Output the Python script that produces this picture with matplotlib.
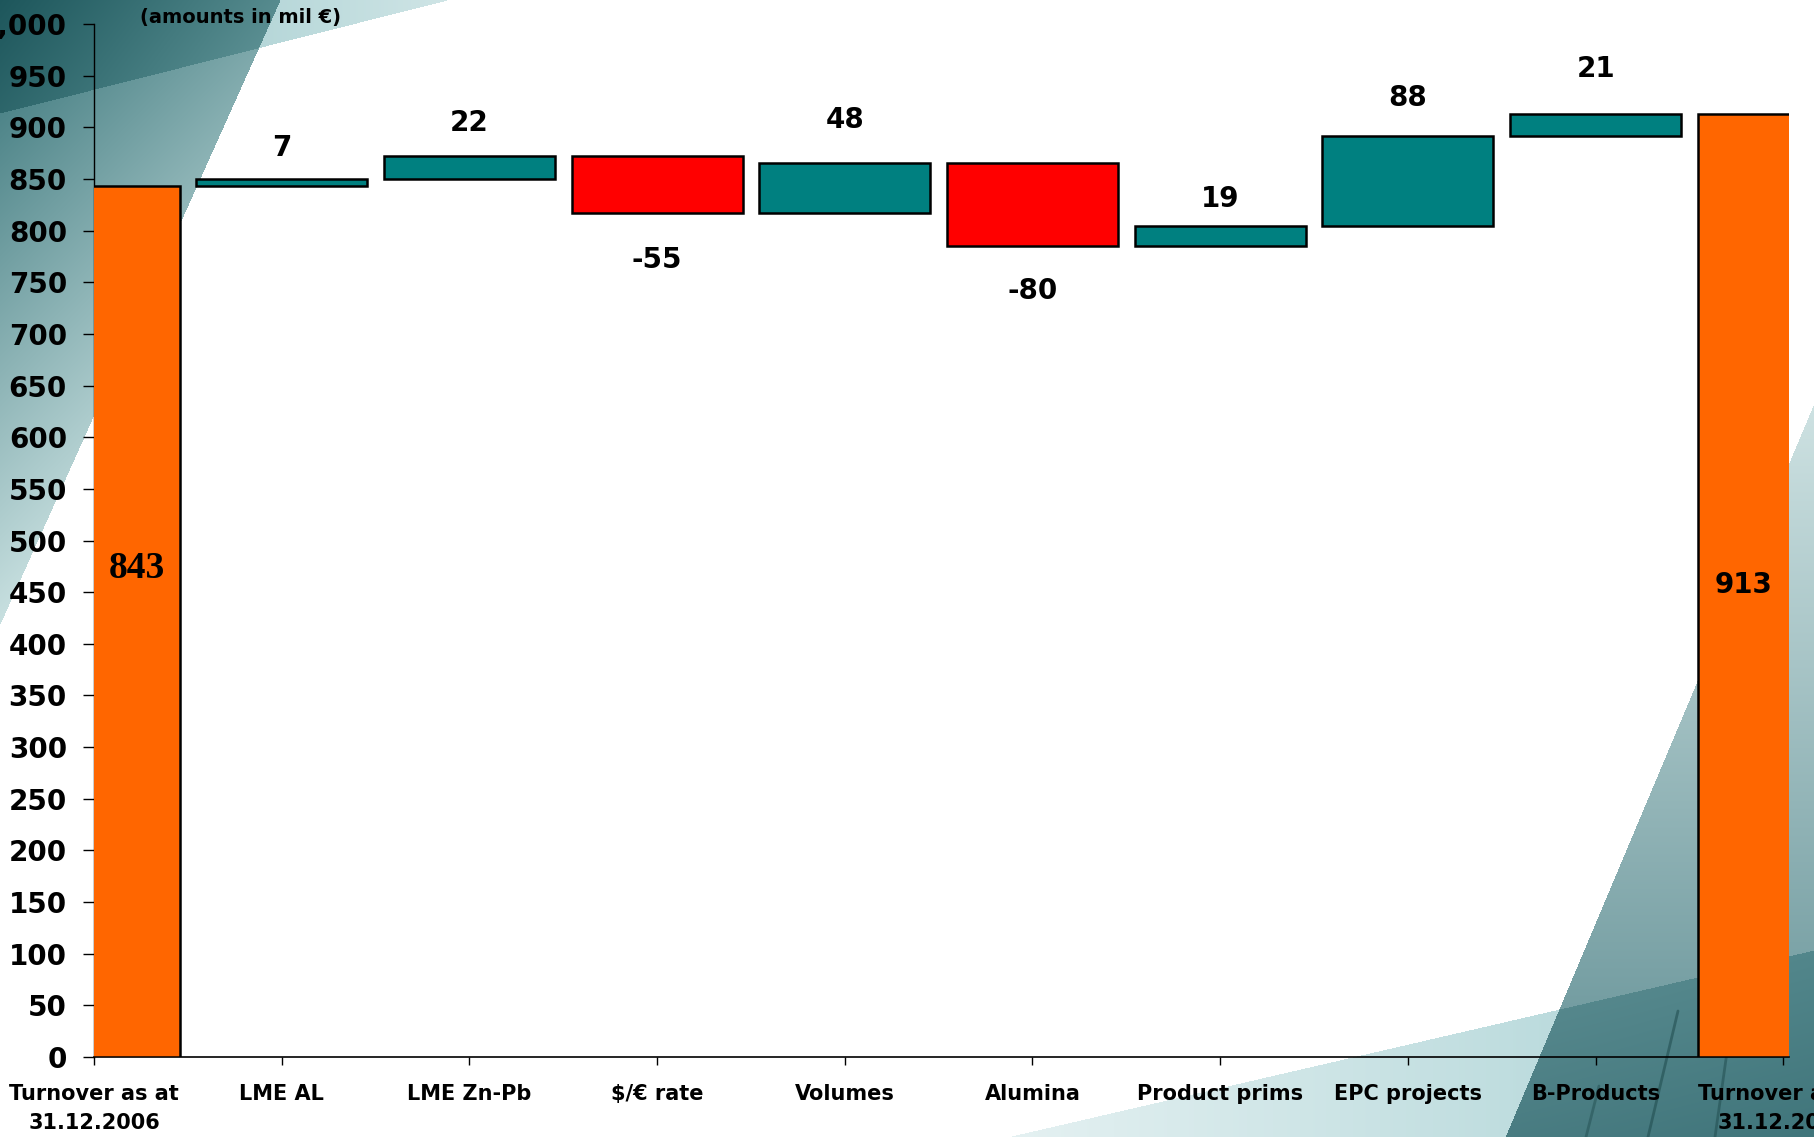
import numpy as np
import matplotlib
matplotlib.use("Agg")
import matplotlib.pyplot as plt
from matplotlib.ticker import FuncFormatter

# ---------------- data ----------------
categories = ["Turnover as at\n31.12.2006", "LME AL", "LME Zn-Pb", "$/€ rate",
              "Volumes", "Alumina", "Product prims", "EPC projects",
              "B-Products", "Turnover as at\n31.12.2007"]
start_value = 843
changes = [7, 22, -55, 48, -80, 19, 88, 21]
end_value = 913
y_ticks = list(range(0, 1001, 50))
unit_note = "(amounts in mil €)"

# ---------------- style / layout ----------------
ORANGE = "#FF6600"
TEAL = "#008080"
RED = "#FF0000"
BAR_W = 0.912
EDGE_LW = 1.8
label_offset_pts = [22, 24, -34, 31, -32, 20, 27, 32]   # label centre offset from bar end
W_PX, H_PX = 1814, 1137

plt.rcParams['font.family'] = ['DejaVu Sans']
fig = plt.figure(figsize=(W_PX / 100, H_PX / 100), dpi=100)

# ---------------- decorative background ----------------
bg = fig.add_axes([0, 0, 1, 1], zorder=0)
yy, xx = np.mgrid[0:H_PX, 0:W_PX].astype(float)
img = np.ones((H_PX, W_PX, 3))

# top-left steep shape
t = xx / 280.0 + yy / 624.0
mA = t < 1
dark = np.array([0.20, 0.44, 0.46])
light = np.array([0.80, 0.89, 0.89])
sA = np.clip(yy / 640.0 + 0.45 * xx / 280.0, 0, 1)[..., None]
colA = dark + (light - dark) * sA
img = np.where(mA[..., None], colA, img)

# top-left flat band
u = xx / 447.0 + yy / 113.0
mB = u < 1
bandc = np.array([0.58, 0.77, 0.78])
fade = np.clip(xx / 447.0, 0, 1)[..., None]
mult = 1 - (1 - bandc) * (1 - 0.55 * fade)
img = np.where(mB[..., None], img * mult, img)

# bottom-right steep shape
xline = 1689 - 0.421 * (yy - 700)
mC = xx > xline
sC = np.clip((yy - 350) / 787.0, 0, 1)[..., None]
lightC = np.array([0.84, 0.91, 0.91])
darkC = np.array([0.38, 0.56, 0.58])
colC = lightC + (darkC - lightC) * sC
img = np.where(mC[..., None], colC, img)

# bottom-right flat band
yline = 1137 - (xx - 1007) * 0.2317
mD = yy > yline
fadeD = np.clip((xx - 1007) / 807.0, 0, 1)[..., None]
bandD = np.array([0.66, 0.82, 0.83])
multD = 1 - (1 - bandD) * (0.3 + 0.7 * fadeD)
img = np.where(mD[..., None], img * multD, img)

bg.imshow(img, extent=(0, W_PX, H_PX, 0), aspect='auto', interpolation='bilinear')
# a few dark streaks
for (x0, y0, x1, y1, a) in [(1678, 1011, 1648, 1137, 0.55), (1599, 1086, 1586, 1137, 0.45),
                            (1740, 960, 1715, 1137, 0.5)]:
    bg.plot([x0, x1], [y0, y1], color="#1e4a4c", lw=2.0, alpha=a, solid_capstyle='round')
bg.set_xlim(0, W_PX)
bg.set_ylim(H_PX, 0)
bg.axis('off')

# ---------------- main chart ----------------
left = 94 / W_PX
bottom = (H_PX - 1057) / H_PX
height = 1033 / H_PX
right_px = 1789
ax = fig.add_axes([left, bottom, (right_px - 94) / W_PX, height], zorder=1)
ax.set_facecolor('none')

x = np.arange(len(categories))
levels = start_value + np.cumsum(changes)
prev = np.concatenate([[start_value], levels[:-1]])
bottoms = np.minimum(prev, levels)
heights = np.abs(changes)
colors = [TEAL if c > 0 else RED for c in changes]

ax.bar(x[0], start_value, width=BAR_W, color=ORANGE, edgecolor='black', linewidth=EDGE_LW, zorder=3)
ax.bar(x[1:-1], heights, bottom=bottoms, width=BAR_W, color=colors,
       edgecolor='black', linewidth=EDGE_LW, zorder=3)
ax.bar(x[-1], end_value, width=BAR_W, color=ORANGE, edgecolor='black', linewidth=EDGE_LW, zorder=3)

xmax = (right_px - 94) / 187.7
ax.set_xlim(0, xmax)
ax.set_ylim(0, 1000)

# value labels for changes
for xi, c, lv, pv, off in zip(x[1:-1], changes, levels, prev, label_offset_pts):
    yref = max(lv, pv) if c > 0 else min(lv, pv)
    ax.annotate(str(c), (xi, yref), xytext=(0, off), textcoords='offset points',
                ha='center', va='center', fontsize=20, fontweight='bold', zorder=4)

# totals labels (centred in visible part of clipped bars)
x_first = (0 + BAR_W / 2) / 2
x_last = (x[-1] - BAR_W / 2 + xmax) / 2
ax.annotate(str(start_value), (x_first, start_value / 2), xytext=(0, 38), textcoords='offset points',
            ha='center', va='center', fontsize=27, fontweight='bold',
            family=['Liberation Serif', 'DejaVu Serif'], zorder=4)
ax.annotate(str(end_value), (x_last, end_value / 2), xytext=(0, 0), textcoords='offset points',
            ha='center', va='center', fontsize=20, fontweight='bold', zorder=4)

# axes styling
for sp in ['top', 'right']:
    ax.spines[sp].set_visible(False)
ax.spines['left'].set_linewidth(1.0)
ax.spines['bottom'].set_linewidth(1.2)
ax.set_yticks(y_ticks)
ax.yaxis.set_major_formatter(FuncFormatter(lambda v, p: f"{v:,.0f}"))
ax.tick_params(axis='y', direction='out', length=8, width=1.0, pad=11.5, labelsize=20)
for lab in ax.get_yticklabels():
    lab.set_fontweight('bold')
ax.set_xticks(x)
ax.set_xticklabels(categories)
ax.tick_params(axis='x', direction='out', length=6, width=1.0, pad=13.5, labelsize=15)
for lab in ax.get_xticklabels():
    lab.set_fontweight('bold')
    lab.set_linespacing(1.55)

fig.text(140 / W_PX, 1 - 18 / H_PX, unit_note, ha='left', va='center',
         fontsize=14, fontweight='bold', zorder=5)

fig.savefig("out.png", dpi=100)
